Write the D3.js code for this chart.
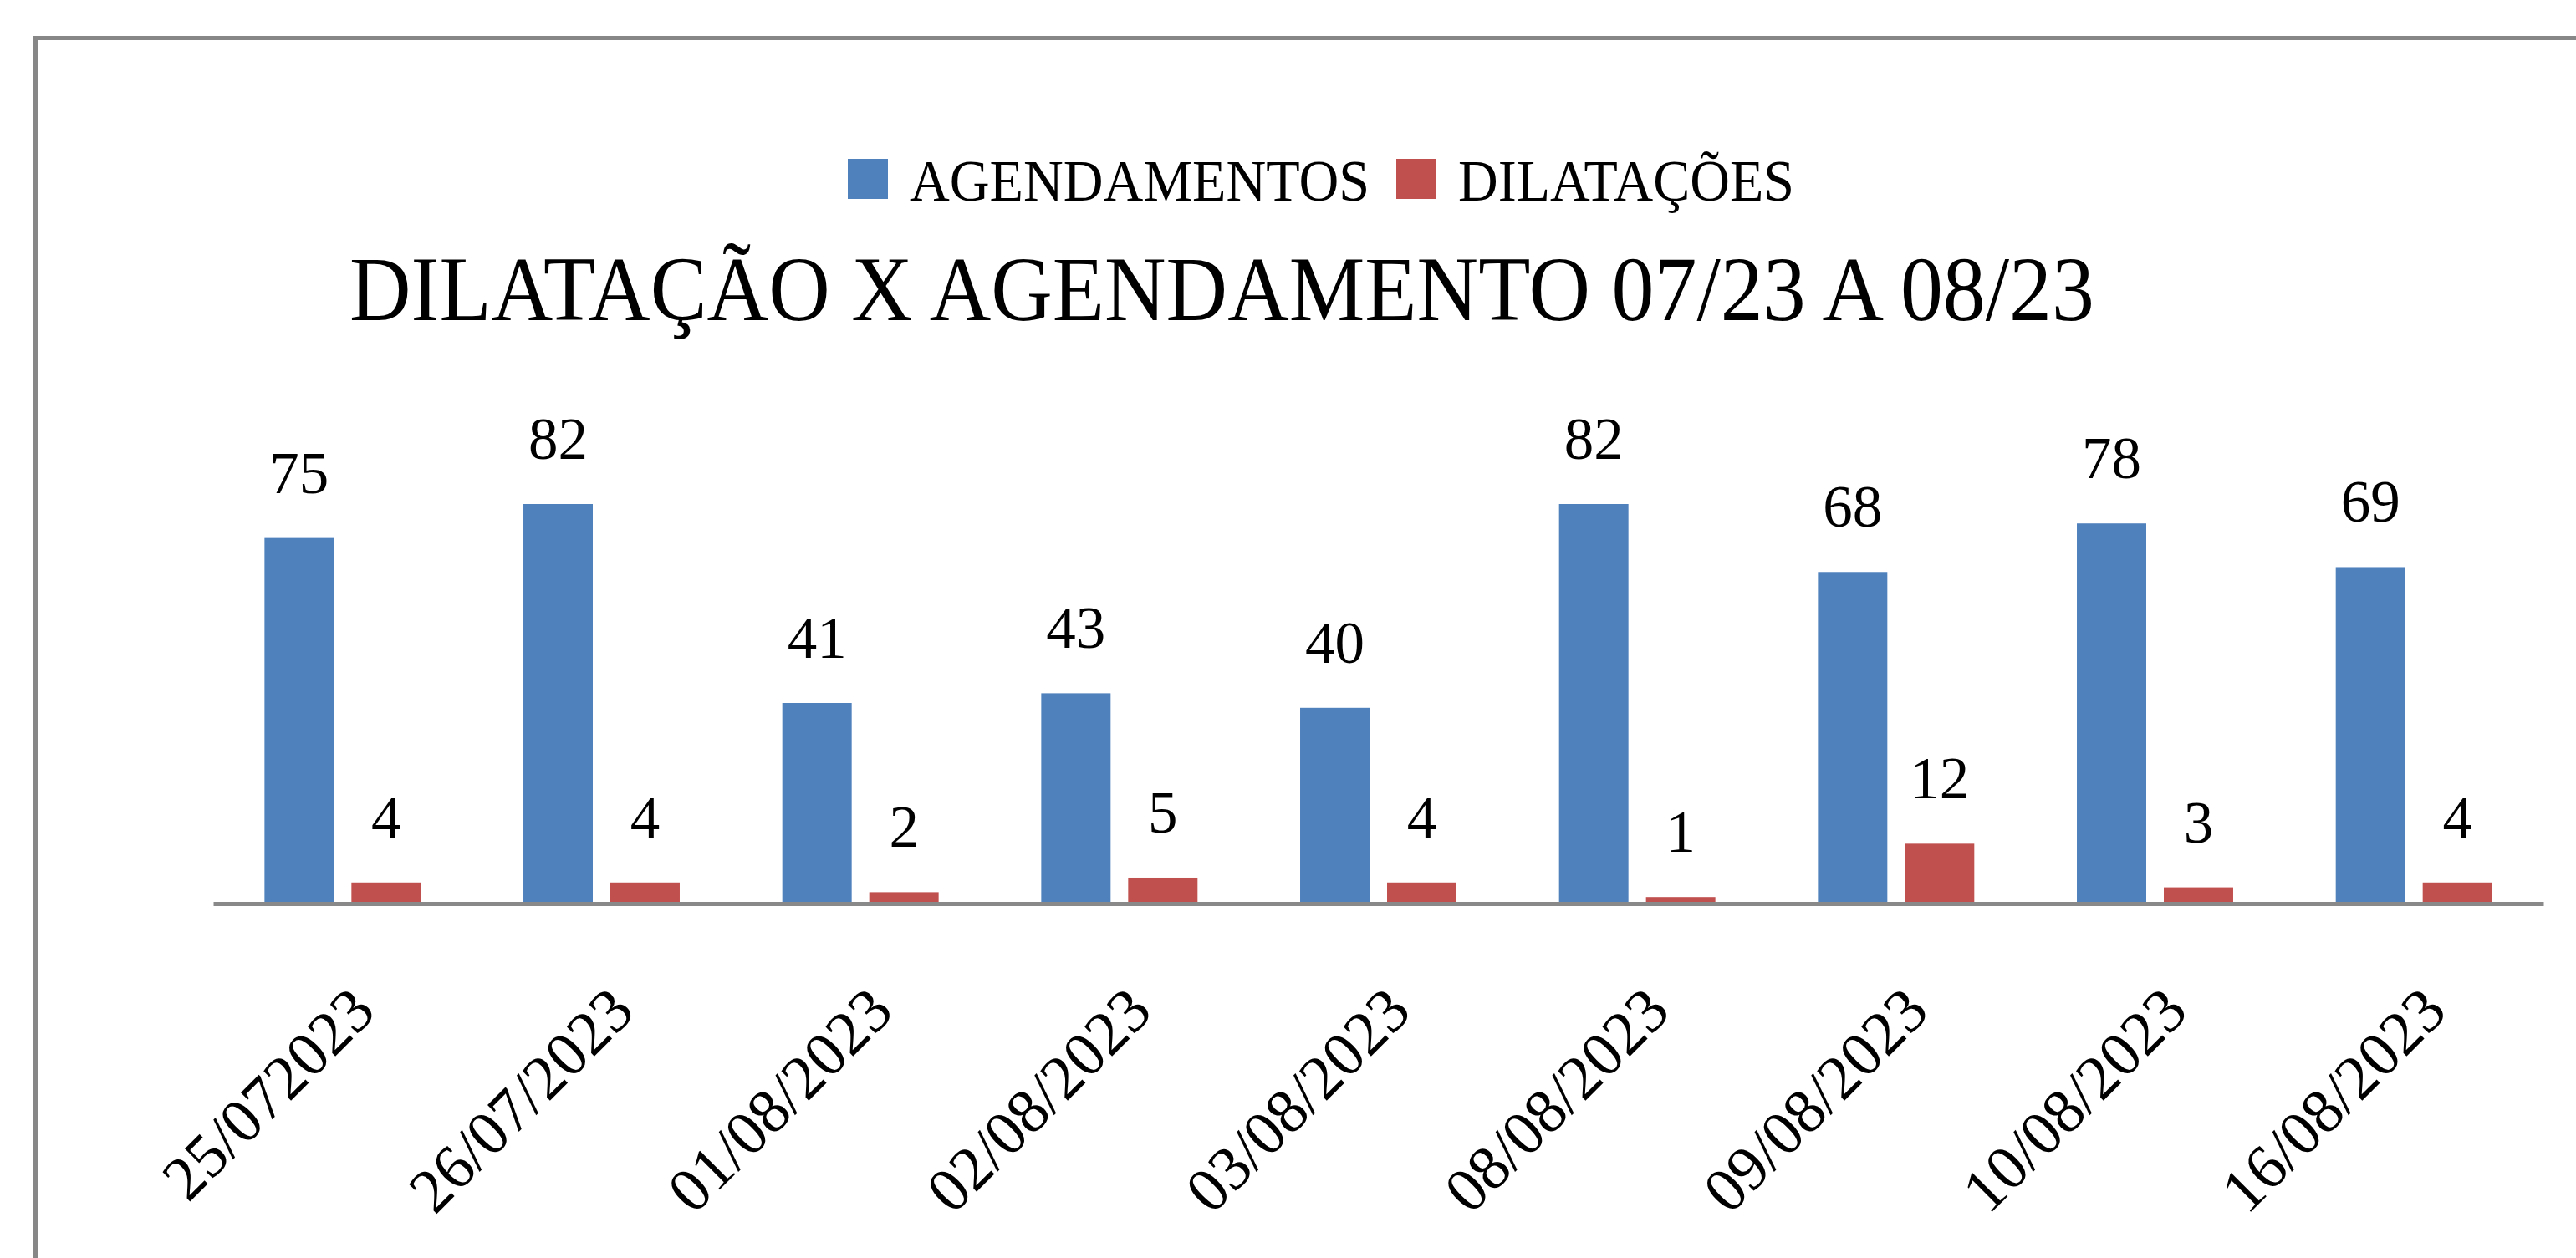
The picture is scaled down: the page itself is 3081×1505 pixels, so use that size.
<!DOCTYPE html>
<html>
<head>
<meta charset="utf-8">
<script src="https://cdn.jsdelivr.net/npm/d3@7"></script>
<style>
  body { margin: 0; background: #fff; }
  text { font-family: 'Liberation Serif', serif; fill: #000; }
</style>
</head>
<body>
<div id="svg-container"></div>
<script>
/* global d3 */
var categories = ['25/072023', '26/07/2023', '01/08/2023', '02/08/2023', '03/08/2023',
  '08/08/2023', '09/08/2023', '10/08/2023', '16/08/2023']
var agendamentos = [75, 82, 41, 43, 40, 82, 68, 78, 69]
var dilatacoes = [4, 4, 2, 5, 4, 1, 12, 3, 4]
var seriesNames = ['AGENDAMENTOS', 'DILATAÇÕES']
var title = 'DILATAÇÃO X AGENDAMENTO 07/23 A 08/23'

;(function () {
  'use strict'

  var dimensions = { w: 3081, h: 1505 }
  var offset = { left: 255, right: 39, top: 603, bottom: 426 }
  var colors = ['#4F81BD', '#C0504D']

  var svg = d3.select('#svg-container').append('svg')
    .attr('width', dimensions.w)
    .attr('height', dimensions.h)

  svg.append('rect')
    .attr('width', dimensions.w).attr('height', dimensions.h)
    .attr('fill', '#fff')

  // Frame of the chart (runs off the right and bottom edges)
  svg.append('rect')
    .attr('x', 42.5).attr('y', 45.5)
    .attr('width', dimensions.w + 20).attr('height', dimensions.h + 20)
    .attr('fill', 'none')
    .attr('stroke', '#878787')
    .attr('stroke-width', 5)

  var baseY = dimensions.h - offset.bottom

  var x0 = d3.scaleBand()
    .domain(categories)
    .range([offset.left, dimensions.w - offset.right])

  var x1 = d3.scaleBand()
    .domain(seriesNames)
    .range([0, x0.bandwidth()])
    .paddingInner(0.202)
    .paddingOuter(0.59)

  var y = d3.scaleLinear()
    .domain([0, 82])
    .range([baseY, offset.top])

  var rows = categories.map(function (c, i) {
    return { cat: c, values: [agendamentos[i], dilatacoes[i]] }
  })

  // Bars
  var groups = svg.selectAll('.group').data(rows).enter().append('g')
    .attr('class', 'group')
    .attr('transform', function (d) { return 'translate(' + x0(d.cat) + ',0)' })

  groups.selectAll('rect').data(function (d) {
    return d.values.map(function (v, k) { return { key: seriesNames[k], value: v, k: k } })
  }).enter().append('rect')
    .attr('x', function (d) { return x1(d.key) })
    .attr('y', function (d) { return y(d.value) })
    .attr('width', x1.bandwidth())
    .attr('height', function (d) { return baseY - y(d.value) })
    .attr('fill', function (d) { return colors[d.k] })

  // Value labels
  groups.selectAll('.value').data(function (d) {
    return d.values.map(function (v, k) { return { key: seriesNames[k], value: v } })
  }).enter().append('text')
    .attr('class', 'value')
    .attr('x', function (d) { return x1(d.key) + x1.bandwidth() / 2 })
    .attr('y', function (d) { return y(d.value) - 54 })
    .attr('text-anchor', 'middle')
    .attr('font-size', 71)
    .text(function (d) { return d.value })

  // X axis
  var xAxis = d3.axisBottom(x0).tickSize(0).tickSizeOuter(0)
  var gx = svg.append('g')
    .attr('class', 'x axis')
    .attr('transform', 'translate(0,' + (baseY + 2) + ')')
    .call(xAxis)
  gx.select('.domain')
    .attr('stroke', '#898989')
    .attr('stroke-width', 5)
  gx.selectAll('.tick text')
    .attr('font-family', "'Liberation Serif', serif")
    .attr('font-size', 75)
    .attr('fill', '#000')
    .attr('text-anchor', 'end')
    .attr('dy', 0)
    .attr('y', 0)
    .attr('transform', 'translate(42,132) rotate(-45)')

  // Legend
  var legendX = [1014, 1670]
  var legendW = [550, 402]
  var legend = svg.append('g').attr('class', 'legend')
  seriesNames.forEach(function (name, i) {
    legend.append('rect')
      .attr('x', legendX[i]).attr('y', 190)
      .attr('width', 48).attr('height', 48)
      .attr('fill', colors[i])
    legend.append('text')
      .attr('x', legendX[i] + 74).attr('y', 240)
      .attr('font-size', 70)
      .attr('textLength', legendW[i])
      .attr('lengthAdjust', 'spacingAndGlyphs')
      .text(name)
  })

  // Title
  svg.append('text')
    .attr('x', 418).attr('y', 383)
    .attr('font-size', 110)
    .attr('textLength', 2087)
    .attr('lengthAdjust', 'spacingAndGlyphs')
    .text(title)
}())
</script>
</body>
</html>
